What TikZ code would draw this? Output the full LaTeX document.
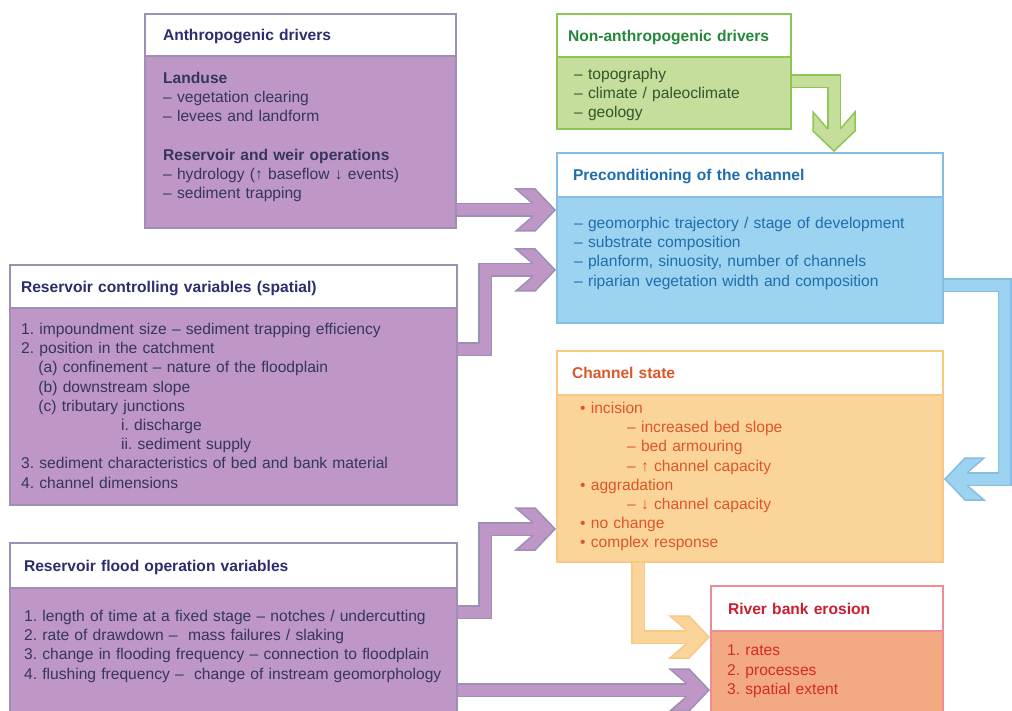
\documentclass[tikz,border=0pt]{standalone}
\usepackage{fontspec}
\setmainfont{Liberation Sans}
\usetikzlibrary{calc,backgrounds}
\definecolor{purplefill}{HTML}{BE97C6}
\definecolor{purpleline}{HTML}{9E8FB5}
\definecolor{purplehead}{HTML}{2B2D6E}
\definecolor{purpletext}{HTML}{35355E}
\definecolor{greenfill}{HTML}{C5DE9B}
\definecolor{greenline}{HTML}{8DC655}
\definecolor{greenhead}{HTML}{23883A}
\definecolor{greentext}{HTML}{33552B}
\definecolor{bluefill}{HTML}{9CD3F0}
\definecolor{blueline}{HTML}{86BDE2}
\definecolor{bluetext}{HTML}{1F6DAF}
\definecolor{orangefill}{HTML}{FBD49A}
\definecolor{orangeline}{HTML}{F8C886}
\definecolor{orangetext}{HTML}{DD562A}
\definecolor{bankfill}{HTML}{F3A982}
\definecolor{bankline}{HTML}{EE8C93}
\definecolor{bankhead}{HTML}{C8202F}
\definecolor{banktext}{HTML}{D52A2A}

\tikzset{
  boxhead/.style={draw=#1, line width=2.5pt, fill=white, anchor=north west,
    outer sep=0pt, inner ysep=0pt, align=left, text depth=0pt,
    font=\bfseries\fontsize{15.6}{19.2}\selectfont},
  boxbody/.style={draw=#1, line width=2.5pt, anchor=north west,
    outer sep=0pt, inner sep=0pt},
  boxtext/.style={anchor=north west, inner sep=0pt, align=left, text width=#1,
    font=\frenchspacing\fontsize{15.6}{19.2}\selectfont},
  shaft/.style 2 args={draw=#2, double=#1, line width=1.5pt,
    double distance=11pt, line join=miter},
  pics/chevron/.style 2 args={code={
    \fill[#1] (-24,-6.25) -- (-41,-21) -- (-22,-21) -- (-2,0) -- (-22,21)
      -- (-41,21) -- (-24,6.25) -- cycle;
    \draw[#2, line width=1.5pt, line join=miter] (-24,-6.25) -- (-41,-21)
      -- (-22,-21) -- (-2,0) -- (-22,21) -- (-41,21) -- (-24,6.25);
  }}
}

\begin{document}
\begin{tikzpicture}[x=1pt, y=-1pt]
  \useasboundingbox (0,0) rectangle (1012,711);

  % anthropogenic drivers
  \node[boxhead=purpleline, text=purplehead, inner xsep=18pt, text width=275pt,
        minimum height=42pt] (anthrohead) at (145,14) {Anthropogenic drivers};
  \node[boxbody=purpleline, fill=purplefill, minimum width=311pt,
        minimum height=172pt] (anthrobody) at (anthrohead.south west) {};
  \node[boxtext=285pt, text=purpletext] (anthrotext)
    at ($(anthrobody.north west)+(18,16)$) {%
    \textbf{Landuse}\\
    – vegetation clearing\\
    – levees and landform\\[19.2pt]
    \textbf{Reservoir and weir operations}\\
    – hydrology (↑ baseflow ↓ events)\\
    – sediment trapping};

  % non-anthropogenic drivers
  \node[boxhead=greenline, text=greenhead, inner xsep=11pt, text width=212pt,
        minimum height=43pt] (nonhead) at (557,14) {Non-anthropogenic drivers};
  \node[boxbody=greenline, fill=greenfill, minimum width=234pt,
        minimum height=72pt] (nonbody) at (nonhead.south west) {};
  \node[boxtext=210pt, text=greentext] (nontext)
    at ($(nonbody.north west)+(17,11)$) {%
    – topography\\
    – climate / paleoclimate\\
    – geology};

  % preconditioning
  \node[boxhead=blueline, text=bluetext, inner xsep=16pt, text width=354pt,
        minimum height=44pt] (precondhead) at (557,153) {Preconditioning of the channel};
  \node[boxbody=blueline, fill=bluefill, minimum width=386pt,
        minimum height=126pt] (precondbody) at (precondhead.south west) {};
  \node[boxtext=360pt, text=bluetext] (precondtext)
    at ($(precondbody.north west)+(17,20)$) {%
    – geomorphic trajectory / stage of development\\
    – substrate composition\\
    – planform, sinuosity, number of channels\\
    – riparian vegetation width and composition};

  % reservoir controlling variables
  \node[boxhead=purpleline, text=purplehead, inner xsep=11pt, text width=425pt,
        minimum height=43pt] (resctrlhead) at (10,265) {Reservoir controlling variables (spatial)};
  \node[boxbody=purpleline, fill=purplefill, minimum width=447pt,
        minimum height=197pt] (resctrlbody) at (resctrlhead.south west) {};
  \node[boxtext=425pt, text=purpletext] (resctrltext)
    at ($(resctrlbody.north west)+(11,15)$) {%
    1. impoundment size – sediment trapping efficiency\\
    2. position in the catchment\\
    \hspace*{17.3pt}(a) confinement – nature of the floodplain\\
    \hspace*{17.3pt}(b) downstream slope\\
    \hspace*{17.3pt}(c) tributary junctions\\
    \hspace*{100pt}i. discharge\\
    \hspace*{100pt}ii. sediment supply\\
    3. sediment characteristics of bed and bank material\\
    4. channel dimensions};

  % channel state
  \node[boxhead=orangeline, text=orangetext, inner xsep=15pt, text width=356pt,
        minimum height=44pt] (chanhead) at (557,351) {Channel state};
  \node[boxbody=orangeline, fill=orangefill, minimum width=386pt,
        minimum height=167pt] (chanbody) at (chanhead.south west) {};
  \node[boxtext=350pt, text=orangetext] (chantext)
    at ($(chanbody.north west)+(23,7)$) {%
    • incision\\
    \hspace*{47pt}– increased bed slope\\
    \hspace*{47pt}– bed armouring\\
    \hspace*{47pt}– ↑ channel capacity\\
    • aggradation\\
    \hspace*{47pt}– ↓ channel capacity\\
    • no change\\
    • complex response};

  % reservoir flood operation variables
  \node[boxhead=purpleline, text=purplehead, inner xsep=14pt, text width=419pt,
        minimum height=45pt] (floodhead) at (10,543) {Reservoir flood operation variables};
  \node[boxbody=purpleline, fill=purplefill, minimum width=447pt,
        minimum height=160pt] (floodbody) at (floodhead.south west) {};
  \node[boxtext=430pt, text=purpletext] (floodtext)
    at ($(floodbody.north west)+(14,22)$) {%
    1. length of time at a fixed stage – notches / undercutting\\
    2. rate of drawdown – \ mass failures / slaking\\
    3. change in flooding frequency – connection to floodplain\\
    4. flushing frequency – \ change of instream geomorphology};

  % river bank erosion
  \node[boxhead=bankline, text=bankhead, inner xsep=17pt, text width=198pt,
        minimum height=45pt] (bankhead) at (711,586) {River bank erosion};
  \node[boxbody=bankline, fill=bankfill, minimum width=232pt,
        minimum height=140pt] (bankbody) at (bankhead.south west) {};
  \node[boxtext=200pt, text=banktext] (banktext)
    at ($(bankbody.north west)+(16,14)$) {%
    1. rates\\
    2. processes\\
    3. spatial extent};

  % fat arrows
  \begin{scope}[on background layer]
    \draw[shaft={purplefill}{purpleline}, shorten >=24pt]
      (anthrobody.east |- 0,210) -- (precondbody.west |- 0,210);
    \pic at (precondbody.west |- 0,210) {chevron={purplefill}{purpleline}};

    \draw[shaft={purplefill}{purpleline}, shorten >=24pt]
      (resctrlbody.east |- 0,349) -| (485,270) -- (precondbody.west |- 0,270);
    \pic at (precondbody.west |- 0,270) {chevron={purplefill}{purpleline}};

    \draw[shaft={purplefill}{purpleline}, shorten >=24pt]
      (floodbody.east |- 0,612) -| (485,529) -- (chanbody.west |- 0,529);
    \pic at (chanbody.west |- 0,529) {chevron={purplefill}{purpleline}};

    \draw[shaft={purplefill}{purpleline}, shorten >=24pt]
      (floodbody.east |- 0,690) -- (bankbody.west |- 0,690);
    \pic at (bankbody.west |- 0,690) {chevron={purplefill}{purpleline}};

    \draw[shaft={greenfill}{greenline}, shorten >=24pt]
      (nonbody.east |- 0,81.5) -| (precondhead.north -| 834,0);
    \pic[rotate=-90] at (precondhead.north -| 834,0) {chevron={greenfill}{greenline}};

    \draw[shaft={bluefill}{blueline}, shorten >=24pt]
      (precondbody.east |- 0,285.5) -| (1004.5,479) -- (chanbody.east |- 0,479);
    \pic[rotate=180] at (chanbody.east |- 0,479) {chevron={bluefill}{blueline}};

    \draw[shaft={orangefill}{orangeline}, shorten >=24pt]
      (chanbody.south -| 638,0) |- (bankbody.west |- 0,637);
    \pic at (bankbody.west |- 0,637) {chevron={orangefill}{orangeline}};
  \end{scope}
\end{tikzpicture}
\end{document}
